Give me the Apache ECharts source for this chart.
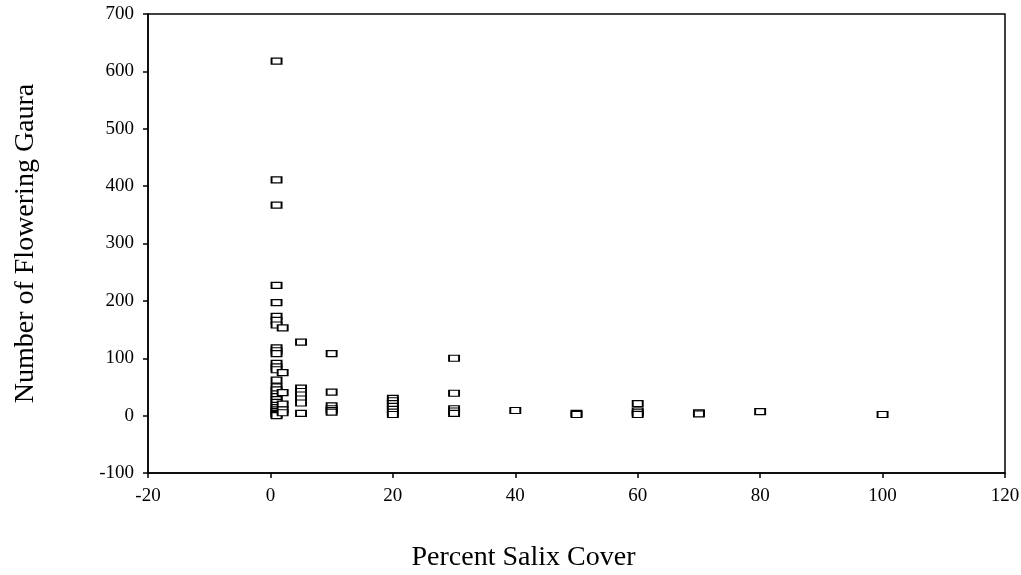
<!DOCTYPE html>
<html>
<head>
<meta charset="utf-8">
<script src="https://cdn.jsdelivr.net/npm/echarts@6/dist/echarts.min.js"></script>
<style>
  html, body { margin: 0; padding: 0; background: #fff; }
  #chart { width: 1021px; height: 575px; }
</style>
</head>
<body>
<div id="chart"></div>
<script>
// percent salix cover vs number of flowering gaura
const cover1 = [618, 411, 367, 227, 197, 173, 166, 158, 118, 113, 108, 91, 85, 80, 62, 50, 45, 38, 33, 28, 23, 18, 14, 10, 7, 4, 2, 0];
const cover2 = [153, 75, 40, 20, 10, 5];
const cover5 = [128, 48, 42, 36, 29, 22, 4];
const cover10 = [108, 41, 17, 12, 9, 6];
const cover20 = [30, 26, 21, 16, 11, 6, 2];
const cover30 = [100, 39, 12, 8, 4];
const cover40 = [9];
const cover50 = [4, 2];
const cover60 = [21, 8, 5, 2];
const cover70 = [5, 3];
const cover80 = [7];
const cover100 = [2];

const columns = [
  [1, cover1], [2, cover2], [5, cover5], [10, cover10], [20, cover20], [30, cover30],
  [40, cover40], [50, cover50], [60, cover60], [70, cover70], [80, cover80], [100, cover100]
];

var points = [];
columns.forEach(function (col) {
  col[1].forEach(function (v) {
    points.push([col[0], v]);
  });
});

const font = 'Liberation Serif, Times New Roman, serif';
const chart = echarts.init(document.getElementById('chart'));

const option = {
  animation: false,
  grid: {
    left: 148,
    right: 16,
    top: 14,
    bottom: 102,
    outerBoundsMode: 'none',
    containLabel: false,
    show: true,
    borderColor: '#000',
    borderWidth: 1.5
  },
  xAxis: {
    type: 'value',
    min: -20,
    max: 120,
    interval: 20,
    name: 'Percent Salix Cover',
    nameLocation: 'middle',
    nameGap: 71,
    // the title sits left of the axis centre in the original
    nameTextStyle: { fontFamily: font, fontSize: 28, color: '#000', padding: [0, 106, 0, 0] },
    axisLine: { onZero: false, lineStyle: { color: '#000', width: 1.5 } },
    axisTick: { show: true, length: 5, lineStyle: { color: '#000', width: 1.5 } },
    axisLabel: { fontFamily: font, fontSize: 19, color: '#000', margin: 14 },
    splitLine: { show: false }
  },
  yAxis: {
    type: 'value',
    min: -100,
    max: 700,
    interval: 100,
    name: 'Number of Flowering Gaura',
    nameLocation: 'middle',
    nameGap: 108,
    nameTextStyle: { fontFamily: font, fontSize: 28, color: '#000' },
    axisLine: { onZero: false, lineStyle: { color: '#000', width: 1.5 } },
    axisTick: { show: true, length: 5, lineStyle: { color: '#000', width: 1.5 } },
    axisLabel: { fontFamily: font, fontSize: 19, color: '#000', margin: 14 },
    splitLine: { show: false }
  },
  series: [{
    type: 'scatter',
    symbol: 'rect',
    symbolSize: [10, 6],
    itemStyle: {
      color: '#fff',
      borderColor: '#000',
      borderWidth: 1.5,
      opacity: 1
    },
    data: points
  }]
};
chart.setOption(option);
</script>
</body>
</html>
